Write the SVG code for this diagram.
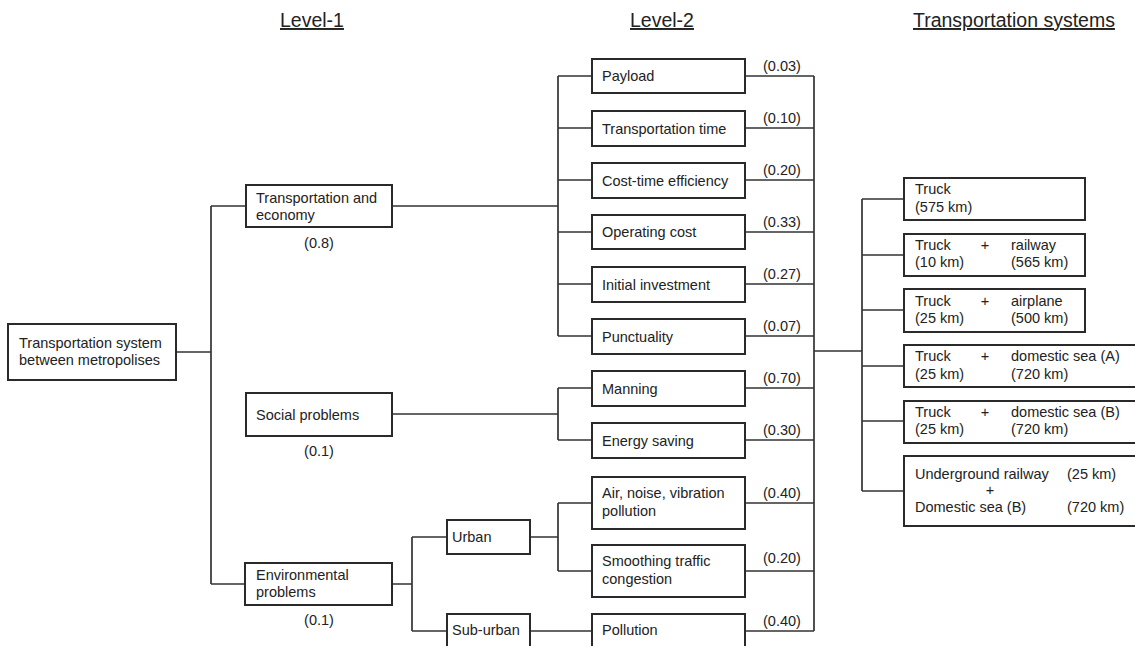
<svg xmlns="http://www.w3.org/2000/svg" width="1135" height="646" viewBox="0 0 1135 646">
<style>
text{font-family:"Liberation Sans",Arial,sans-serif;font-size:14.5px;fill:#222}
.h{font-size:19.5px;text-decoration:underline}
.b{fill:#fff;stroke:#2a2a2a;stroke-width:2}
.c{fill:none;stroke:#333;stroke-width:1.7}
.m{text-anchor:middle}
</style>
<rect width="1135" height="646" fill="#fff"/>
<g id="headers">
<text class="h" x="280" y="27">Level-1</text>
<text class="h" x="630" y="27">Level-2</text>
<text class="h" x="913" y="27">Transportation systems</text>
</g>
<g id="connectors">
<path class="c" d="M176,352H211M211,206V584M211,206H246M211,584H245"/>
<path class="c" d="M392,206H558M558,76V336M558,76H592M558,128H592M558,180H592M558,232H592M558,284H592M558,336H592"/>
<path class="c" d="M392,414H558M558,388V440M558,388H592M558,440H592"/>
<path class="c" d="M392,584H412M412,537V631M412,537H447M412,631H447"/>
<path class="c" d="M530,537H558M558,503V571M558,503H592M558,571H592M530,631H592"/>
<path class="c" d="M745,76H814M745,128H814M745,180H814M745,232H814M745,284H814M745,336H814M745,388H814M745,440H814M745,503H814M745,571H814M745,631H814M814,76V631"/>
<path class="c" d="M814,351H862M862,199V491M862,199H904M862,255H904M862,310H904M862,366H904M862,421H904M862,491H904"/>
</g>
<g id="root"><rect class="b" x="8" y="324" width="168" height="56"/><text x="19" y="347.5">Transportation system</text><text x="19" y="365">between metropolises</text></g>
<g id="trans-econ"><rect class="b" x="246" y="185" width="146" height="42"/><text x="256" y="203">Transportation and</text><text x="256" y="220">economy</text><text class="m" x="319" y="248">(0.8)</text></g>
<g id="social"><rect class="b" x="246" y="393" width="146" height="43"/><text x="256" y="419.5">Social problems</text><text class="m" x="319" y="456">(0.1)</text></g>
<g id="env"><rect class="b" x="245" y="563" width="147" height="42"/><text x="256" y="580">Environmental</text><text x="256" y="597">problems</text><text class="m" x="319" y="625">(0.1)</text></g>
<g id="urban"><rect class="b" x="447" y="520" width="83" height="34"/><text x="452" y="542">Urban</text></g>
<g id="suburban"><rect class="b" x="447" y="614" width="83" height="50"/><text x="452" y="635">Sub-urban</text></g>
<g id="payload"><rect class="b" x="592" y="59" width="153" height="34"/><text x="602" y="81">Payload</text><text x="763" y="70.5">(0.03)</text></g>
<g id="ttime"><rect class="b" x="592" y="111" width="153" height="35"/><text x="602" y="133.5">Transportation time</text><text x="763" y="122.5">(0.10)</text></g>
<g id="costtime"><rect class="b" x="592" y="163" width="153" height="35"/><text x="602" y="185.5">Cost-time efficiency</text><text x="763" y="174.5">(0.20)</text></g>
<g id="opcost"><rect class="b" x="592" y="215" width="153" height="34"/><text x="602" y="237">Operating cost</text><text x="763" y="226.5">(0.33)</text></g>
<g id="initinv"><rect class="b" x="592" y="267" width="153" height="35"/><text x="602" y="289.5">Initial investment</text><text x="763" y="278.5">(0.27)</text></g>
<g id="punct"><rect class="b" x="592" y="319" width="153" height="35"/><text x="602" y="341.5">Punctuality</text><text x="763" y="330.5">(0.07)</text></g>
<g id="manning"><rect class="b" x="592" y="371" width="153" height="35"/><text x="602" y="393.5">Manning</text><text x="763" y="382.5">(0.70)</text></g>
<g id="energy"><rect class="b" x="592" y="423" width="153" height="35"/><text x="602" y="445.5">Energy saving</text><text x="763" y="434.5">(0.30)</text></g>
<g id="air"><rect class="b" x="592" y="477" width="153" height="52"/><text x="602" y="498">Air, noise, vibration</text><text x="602" y="516">pollution</text><text x="763" y="498">(0.40)</text></g>
<g id="smooth"><rect class="b" x="592" y="545" width="153" height="52"/><text x="602" y="566">Smoothing traffic</text><text x="602" y="583.5">congestion</text><text x="763" y="563">(0.20)</text></g>
<g id="pollution"><rect class="b" x="592" y="614" width="153" height="50"/><text x="602" y="635">Pollution</text><text x="763" y="626">(0.40)</text></g>
<g id="sys1"><rect class="b" x="904" y="178" width="181" height="42"/><text x="915" y="194">Truck</text><text x="915" y="212">(575 km)</text></g>
<g id="sys2"><rect class="b" x="904" y="234" width="181" height="42"/><text x="915" y="250">Truck</text><text class="m" x="985" y="250">+</text><text x="1011" y="250">railway</text><text x="915" y="267">(10 km)</text><text x="1011" y="267">(565 km)</text></g>
<g id="sys3"><rect class="b" x="904" y="289" width="181" height="43"/><text x="915" y="305.5">Truck</text><text class="m" x="985" y="305.5">+</text><text x="1011" y="305.5">airplane</text><text x="915" y="323">(25 km)</text><text x="1011" y="323">(500 km)</text></g>
<g id="sys4"><rect class="b" x="904" y="345" width="240" height="42"/><text x="915" y="361">Truck</text><text class="m" x="985" y="361">+</text><text x="1011" y="361">domestic sea (A)</text><text x="915" y="378.5">(25 km)</text><text x="1011" y="378.5">(720 km)</text></g>
<g id="sys5"><rect class="b" x="904" y="401" width="240" height="42"/><text x="915" y="416.5">Truck</text><text class="m" x="985" y="416.5">+</text><text x="1011" y="416.5">domestic sea (B)</text><text x="915" y="434">(25 km)</text><text x="1011" y="434">(720 km)</text></g>
<g id="sys6"><rect class="b" x="904" y="456" width="240" height="70"/><text x="915" y="478.5">Underground railway</text><text x="1067" y="478.5">(25 km)</text><text class="m" x="990" y="495">+</text><text x="915" y="512">Domestic sea (B)</text><text x="1067" y="512">(720 km)</text></g>
</svg>
